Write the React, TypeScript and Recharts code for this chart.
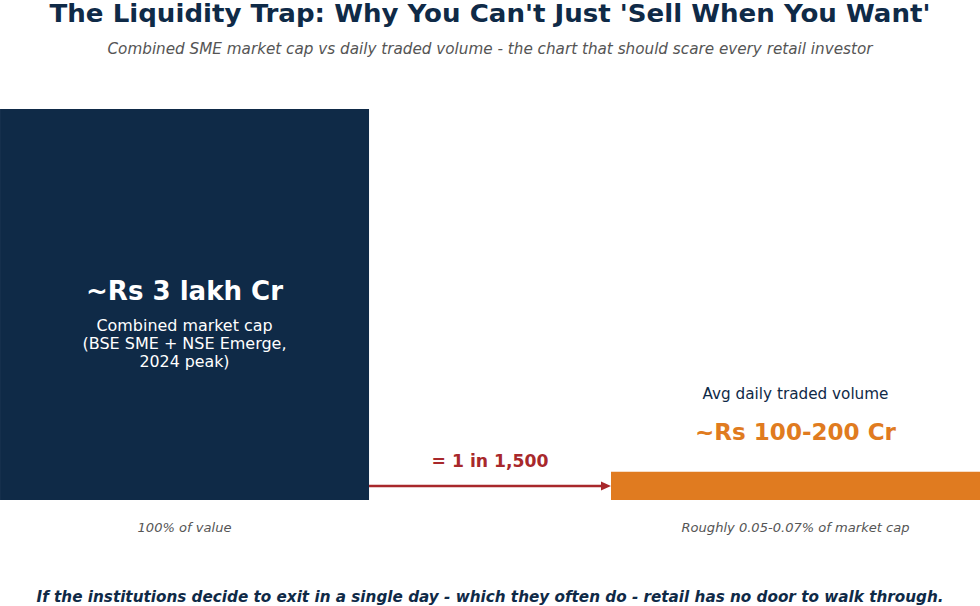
import { BarChart, Bar, XAxis, YAxis, LabelList, ReferenceLine, Cell } from 'recharts';

// page reset so the chart sits at 0,0 in the 980x606 window
if (typeof document !== 'undefined') {
  document.body.style.margin = '0';
}

const categories = ['Combined market cap', 'Avg daily traded volume'];
const positions = [0, 1];
// bar heights as drawn (relative, the picture is not to scale)
const barHeights = [100, 7.2];
const headlines = ['~Rs 3 lakh Cr', '~Rs 100-200 Cr'];
const captions = ['100% of value', 'Roughly 0.05-0.07% of market cap'];
const capLines = ['Combined market cap', '(BSE SME + NSE Emerge,', '2024 peak)'];
const ratioLabel = '= 1 in 1,500';
const arrowLevel = 3.6;

const NAVY = '#0F2A47';
const ORANGE = '#E07B20';
const RED = '#A8282B';
const FONT = '"DejaVu Sans", Verdana, sans-serif';

const data = positions.map((x, i) => ({
  x,
  name: categories[i],
  value: barHeights[i],
  headline: headlines[i],
  caption: captions[i],
}));

const BarText = (props: any) => {
  const { x, y, width, height, index } = props;
  const cx = x + width / 2;
  const bottom = y + height;
  const caption = (
    <text
      x={cx}
      y={bottom + 27}
      textAnchor="middle"
      dominantBaseline="central"
      fontFamily={FONT}
      fontSize={13}
      fontStyle="italic"
      fill="#555"
      textLength={index === 0 ? 94 : 228}
      lengthAdjust="spacingAndGlyphs"
    >
      {captions[index]}
    </text>
  );
  if (index === 0) {
    const mid = y + height / 2;
    return (
      <g>
        <text x={cx} y={mid - 14} textAnchor="middle" dominantBaseline="central" fontFamily={FONT}
          fontSize={26} fontWeight="bold" fill="#fff" textLength={197} lengthAdjust="spacingAndGlyphs">
          {headlines[0]}
        </text>
        {capLines.map((t, k) => (
          <text key={k} x={cx} y={mid + 21 + k * 18} textAnchor="middle" dominantBaseline="central"
            fontFamily={FONT} fontSize={16} fill="#fff"
            textLength={[176, 204, 90][k]} lengthAdjust="spacingAndGlyphs">
            {t}
          </text>
        ))}
        {caption}
      </g>
    );
  }
  return (
    <g>
      <text x={cx} y={y - 78} textAnchor="middle" dominantBaseline="central" fontFamily={FONT}
        fontSize={15} fill={NAVY} textLength={186} lengthAdjust="spacingAndGlyphs">
        {categories[1]}
      </text>
      <text x={cx} y={y - 40} textAnchor="middle" dominantBaseline="central" fontFamily={FONT}
        fontSize={23} fontWeight="bold" fill={ORANGE} textLength={201} lengthAdjust="spacingAndGlyphs">
        {headlines[1]}
      </text>
      {caption}
    </g>
  );
};

const Arrow = (props: any) => {
  const { x1, y1, x2, y2 } = props;
  const mx = (x1 + x2) / 2;
  return (
    <g>
      <line x1={x1} y1={y1} x2={x2 - 8} y2={y2} stroke={RED} strokeWidth={2.5} />
      <polygon points={`${x2},${y2} ${x2 - 10},${y2 - 4.5} ${x2 - 10},${y2 + 4.5}`} fill={RED} />
      <text x={mx} y={y1 - 25} textAnchor="middle" dominantBaseline="central" fontFamily={FONT}
        fontSize={17} fontWeight="bold" fill={RED} textLength={117} lengthAdjust="spacingAndGlyphs">
        {ratioLabel}
      </text>
    </g>
  );
};

const App = () => {
  return (
    <div style={{ position: 'relative', width: 980, height: 606, background: '#fff', overflow: 'hidden' }}>
      <svg width={980} height={606} style={{ position: 'absolute', left: 0, top: 0 }}>
        <text x={490} y={13} textAnchor="middle" dominantBaseline="central" fontFamily={FONT}
          fontSize={25} fontWeight="bold" fill={NAVY} textLength={881} lengthAdjust="spacingAndGlyphs">
          The Liquidity Trap: Why You Can't Just 'Sell When You Want'
        </text>
        <text x={490} y={49} textAnchor="middle" dominantBaseline="central" fontFamily={FONT}
          fontSize={15} fontStyle="italic" fill="#555" textLength={765} lengthAdjust="spacingAndGlyphs">
          Combined SME market cap vs daily traded volume - the chart that should scare every retail investor
        </text>
        <text x={490} y={597} textAnchor="middle" dominantBaseline="central" fontFamily={FONT}
          fontSize={15.5} fontStyle="italic" fontWeight="bold" fill={NAVY} textLength={907}
          lengthAdjust="spacingAndGlyphs">
          If the institutions decide to exit in a single day - which they often do - retail has no door to walk through.
        </text>
      </svg>
      <div style={{ position: 'absolute', left: 0, top: 0 }}>
        <BarChart width={980} height={606} data={data} margin={{ top: 109, right: 0, bottom: 106, left: 0 }}>
          <XAxis dataKey="x" type="number" domain={[-0.302, 1.302]} hide />
          <YAxis type="number" domain={[0, 100]} hide />
          <ReferenceLine
            segment={[{ x: 0.302, y: arrowLevel }, { x: 0.698, y: arrowLevel }]}
            shape={Arrow}
            ifOverflow="visible"
          />
          <Bar dataKey="value" barSize={369} isAnimationActive={false}>
            {data.map((d, i) => (
              <Cell key={d.name} fill={i === 0 ? NAVY : ORANGE} />
            ))}
            <LabelList dataKey="value" content={BarText} />
          </Bar>
        </BarChart>
      </div>
    </div>
  );
};

export default App;
